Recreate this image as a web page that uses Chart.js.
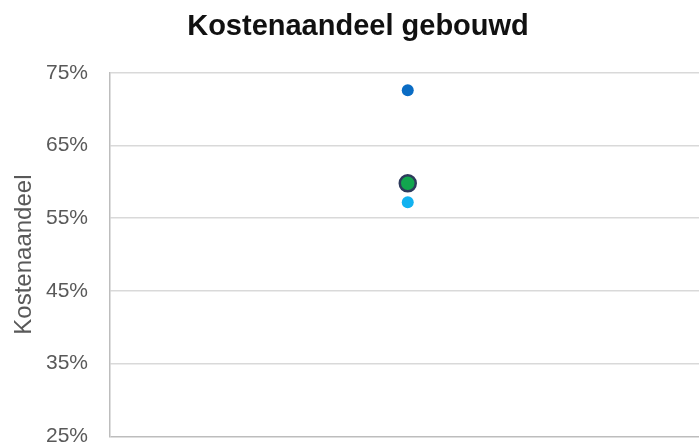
<!DOCTYPE html>
<html>
<head>
<meta charset="utf-8">
<script src="https://cdn.jsdelivr.net/npm/chart.js@4"></script>
<style>
  body { margin: 0; overflow: hidden; background: #fff; }
  #wrap { width: 716px; height: 471px; }
</style>
</head>
<body>
<div id="wrap"><canvas id="grafiek"></canvas></div>
<script>
// waarden (kostenaandeel in %)
const categorieen = ['gebouwd']
const reeksNamen = ['Maximum', 'Gemiddeld', 'Minimum']
const maximum = [72.6]
const gemiddeld = [59.8]
const minimum = [57.2]
const yTicks = [25, 35, 45, 55, 65, 75]

const lettertype = "'Liberation Sans', Arial, sans-serif"

const data = {
  labels: categorieen,
  datasets: [
    {
      label: reeksNamen[0],
      data: maximum,
      showLine: false,
      pointRadius: 6,
      pointBackgroundColor: '#0a6cc4',
      pointBorderColor: '#0a6cc4',
      pointBorderWidth: 0
    },
    {
      label: reeksNamen[2],
      data: minimum,
      showLine: false,
      pointRadius: 6,
      pointBackgroundColor: '#12b2f0',
      pointBorderColor: '#12b2f0',
      pointBorderWidth: 0
    },
    {
      label: reeksNamen[1],
      data: gemiddeld,
      showLine: false,
      pointRadius: 8,
      pointBackgroundColor: '#12a64e',
      pointBorderColor: '#2e3b5c',
      pointBorderWidth: 2.5
    }
  ]
}

const config = {
  type: 'line',
  data: data,
  options: {
    responsive: true,
    maintainAspectRatio: false,
    animation: false,
    layout: { padding: { left: 10, right: 10, top: 0, bottom: 0 } },
    plugins: {
      legend: { display: false },
      tooltip: { enabled: false },
      title: {
        display: true,
        text: 'Kostenaandeel gebouwd',
        color: '#111',
        font: { family: lettertype, size: 29, weight: 'bold' },
        padding: { top: 10, bottom: 28 }
      }
    },
    scales: {
      x: {
        display: true,
        offset: true,
        afterFit: s => { s.height = 0 },
        ticks: { display: false },
        grid: { display: false },
        border: { display: false }
      },
      y: {
        min: 25,
        max: 75,
        afterFit: s => { s.width = 100 },
        afterBuildTicks: s => { s.ticks = yTicks.map(v => ({ value: v })) },
        border: { display: true, color: '#bdbdbd', width: 1.5 },
        grid: {
          drawTicks: false,
          lineWidth: 1.5,
          color: ctx => ctx.tick && ctx.tick.value === 25 ? '#bdbdbd' : '#d9d9d9'
        },
        ticks: {
          padding: 22,
          color: '#595959',
          font: { family: lettertype, size: 21 },
          callback: v => v + '%'
        },
        title: {
          display: true,
          text: 'Kostenaandeel',
          color: '#595959',
          font: { family: lettertype, size: 24 },
          padding: { top: 0, bottom: 0 }
        }
      }
    }
  }
}

new Chart(document.getElementById('grafiek'), config)
</script>
</body>
</html>
